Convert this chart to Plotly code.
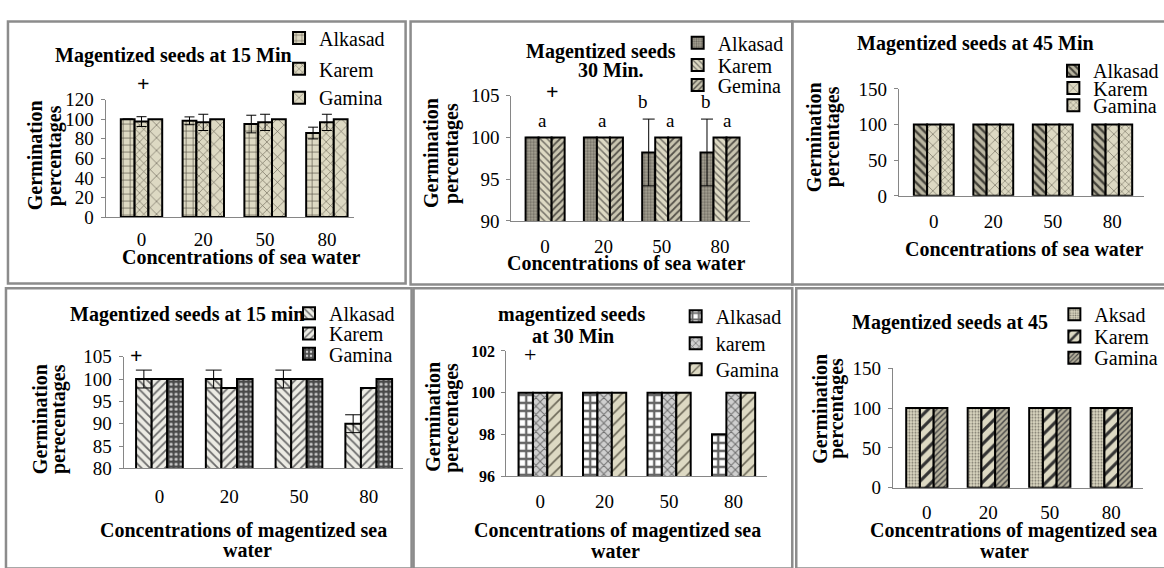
import plotly.graph_objects as go

W, H = 1164, 568
SERIF = "Liberation Serif"
TAN = "#DDD9C3"

categories = ["0", "20", "50", "80"]

# Seeds magnetized 15 min, irrigated with sea water
p1_alkasad = [100, 98.3, 95, 85.8]
p1_alkasad_err = [None, 4, 9, 6]
p1_karem = [97.5, 96.7, 96.7, 96.7]
p1_karem_err = [5, 8.3, 8.3, 8.3]
p1_gamina = [100, 100, 100, 100]

# Seeds magnetized 30 min, sea water
p2_alkasad = [100, 100, 98.2, 98.2]
p2_alkasad_err = [None, None, 4, 4]
p2_karem = [100, 100, 100, 100]
p2_gemina = [100, 100, 100, 100]
p2_letters = ["a", "a", "b", "a", "b", "a"]

# Seeds magnetized 45 min, sea water
p3_alkasad = [100, 100, 100, 100]
p3_karem = [100, 100, 100, 100]
p3_gamina = [100, 100, 100, 100]

# Seeds magnetized 15 min, magnetized sea water
p4_alkasad = [100, 100, 100, 90]
p4_alkasad_err = [2, 2, 2, 2]
p4_karem = [100, 98, 100, 98]
p4_gamina = [100, 100, 100, 100]

# Seeds magnetized 30 min, magnetized sea water
p5_alkasad = [100, 100, 100, 98]
p5_karem = [100, 100, 100, 100]
p5_gamina = [100, 100, 100, 100]

# Seeds magnetized 45 min, magnetized sea water
p6_aksad = [100, 100, 100, 100]
p6_karem = [100, 100, 100, 100]
p6_gamina = [100, 100, 100, 100]

TICK = 19
LEG = 20
BOLD = 20


def fx(px):
    return px / W


def fy(py):
    return 1 - py / H


def pat(shape, fg, bg, size, solidity):
    return dict(color=bg, pattern=dict(shape=shape, fgcolor=fg, bgcolor=bg,
                                       size=size, solidity=solidity, fillmode="replace"))


panels = [
    dict(xdom=(106, 355), ydom=(215, 93), yrange=(0, 120), dtick=20, c0=142, step=62,
         standoff=5, capw=5, ytick=dict(size=TICK),
         legend_left=320, legend_ys=[29, 61, 91],
         series=[("Alkasad", p1_alkasad, p1_alkasad_err, pat("+", "#5a5548", TAN, 7, 0.18)),
                 ("Karem", p1_karem, p1_karem_err, pat("x", "#6a6656", TAN, 6, 0.2)),
                 ("Gamina", p1_gamina, None, pat("x", "#5a5548", TAN, 9, 0.12))]),
    dict(xdom=(513, 753), ydom=(219, 89), yrange=(90, 105), dtick=5, c0=547, step=58.5,
         standoff=8, capw=6, ytick=dict(size=TICK),
         legend_left=720, legend_ys=[34, 57, 78],
         series=[("Alkasad", p2_alkasad, p2_alkasad_err, pat(".", "#6e6a60", "#aaa697", 3, 0.45)),
                 ("Karem", p2_karem, None, pat("\\", "#77746a", TAN, 5, 0.3)),
                 ("Gemina", p2_gemina, None, pat("/", "#55524a", "#c9c5b0", 5, 0.35))]),
    dict(xdom=(902, 1148), ydom=(193, 82), yrange=(0, 150), dtick=50, c0=937, step=59.7,
         standoff=8, capw=5, ytick=dict(size=TICK),
         legend_left=1097, legend_ys=[63, 81, 99],
         series=[("Alkasad", p3_alkasad, None, pat("\\", "#44423a", "#b8b4a0", 6, 0.4)),
                 ("Karem", p3_karem, None, pat("x", "#6a6656", TAN, 8, 0.15)),
                 ("Gamina", p3_gamina, None, pat("x", "#6a6656", TAN, 5, 0.2))]),
    dict(xdom=(124, 404), ydom=(476, 360), yrange=(80, 105), dtick=5, c0=160, step=70,
         standoff=11, capw=8, ytick=dict(size=TICK),
         legend_left=330, legend_ys=[315, 336, 357],
         series=[("Alkasad", p4_alkasad, p4_alkasad_err, pat("\\", "#6a6a6a", "#ecebe4", 6, 0.3)),
                 ("Karem", p4_karem, None, pat("/", "#6a6a6a", "#ecebe4", 6, 0.3)),
                 ("Gamina", p4_gamina, None, pat(".", "#cfcfcf", "#4a4a4a", 5, 0.3))]),
    dict(xdom=(508, 770), ydom=(484, 354), yrange=(96, 102), dtick=2, c0=542, step=64.7,
         standoff=8, capw=5, ytick=dict(size=16, weight="bold"),
         legend_left=718, legend_ys=[318, 346, 373],
         series=[("Alkasad", p5_alkasad, None, pat("+", "#666666", "#ffffff", 8, 0.5)),
                 ("karem", p5_karem, None, pat("x", "#6e6e6e", "#cfcfcf", 6, 0.3)),
                 ("Gamina", p5_gamina, None, pat("/", "#6a6656", TAN, 8, 0.2))]),
    dict(xdom=(896, 1147), ydom=(496, 372), yrange=(0, 150), dtick=50, c0=930, step=61.7,
         standoff=8, capw=5, ytick=dict(size=TICK),
         legend_left=1098, legend_ys=[316, 339, 361],
         series=[("Aksad", p6_aksad, None, pat(".", "#7a766a", TAN, 3, 0.35)),
                 ("Karem", p6_karem, None, pat("/", "#333333", TAN, 9, 0.35)),
                 ("Gamina", p6_gamina, None, pat("/", "#444444", "#b5b09c", 4, 0.35))]),
]

fig = go.Figure()
layout = dict(
    width=W, height=H, margin=dict(l=0, r=0, t=0, b=0),
    paper_bgcolor="white", plot_bgcolor="rgba(0,0,0,0)",
    barmode="group", bargap=0.33, bargroupgap=0,
    font=dict(family=SERIF, size=TICK, color="black"),
    showlegend=True,
)

legend_idx = 0
for k, p in enumerate(panels, start=1):
    xa = "x" if k == 1 else f"x{k}"
    ya = "y" if k == 1 else f"y{k}"
    xkey = "xaxis" if k == 1 else f"xaxis{k}"
    ykey = "yaxis" if k == 1 else f"yaxis{k}"
    L, R = p["xdom"]
    bot, top = p["ydom"]
    r0 = -(p["c0"] - L) / p["step"]
    r1 = r0 + (R - L) / p["step"]
    layout[xkey] = dict(domain=[fx(L), fx(R)], anchor=ya, type="category",
                        range=[r0, r1], showline=True, linecolor="#868686", linewidth=1,
                        ticks="", showgrid=False, zeroline=False,
                        tickfont=dict(family=SERIF, size=TICK),
                        ticklabelstandoff=p["standoff"], fixedrange=True)
    layout[ykey] = dict(domain=[fy(bot), fy(top)], anchor=xa,
                        range=list(p["yrange"]), tick0=p["yrange"][0], dtick=p["dtick"],
                        showline=True, linecolor="#868686", linewidth=1,
                        ticks="outside", ticklen=4, tickcolor="#868686",
                        showgrid=False, zeroline=False,
                        tickfont=dict(family=SERIF, **p["ytick"]),
                        ticklabelstandoff=3, fixedrange=True)
    for (name, vals, err, marker), ly in zip(p["series"], p["legend_ys"]):
        legend_idx += 1
        lkey = "legend" if legend_idx == 1 else f"legend{legend_idx}"
        tr = go.Bar(x=categories, y=vals, name=name, xaxis=xa, yaxis=ya,
                    legend=lkey, hoverinfo="y+name",
                    marker=dict(**marker, line=dict(color="black", width=2)))
        if err is not None:
            tr.error_y = dict(type="data", array=err, visible=True, color="black",
                              thickness=1, width=p["capw"])
        fig.add_trace(tr)
        layout[lkey] = dict(x=fx(p["legend_left"] - 40), y=fy(ly),
                            xanchor="left", yanchor="middle",
                            bgcolor="rgba(0,0,0,0)", borderwidth=0,
                            font=dict(family=SERIF, size=LEG, color="black"),
                            itemwidth=30)

ann = []


def text(x, y, s, size=BOLD, bold=False, angle=0, xanchor="center"):
    ann.append(dict(x=fx(x), y=fy(y), xref="paper", yref="paper", text=s,
                    showarrow=False, textangle=angle, xanchor=xanchor, yanchor="middle",
                    font=dict(family=SERIF, size=size, color="black",
                              weight="bold" if bold else "normal")))


# panel titles
text(174, 47, "Magentized seeds at 15 Min", BOLD, True)
text(603, 43, "Magentized seeds", BOLD, True)
text(613, 62, "30 Min.", BOLD, True)
text(979, 35, "Magentized seeds at 45 Min", BOLD, True)
text(188, 316, "Magentized seeds at 15 min", BOLD, True)
text(573, 316, "magentized seeds", BOLD, True)
text(575, 339, "at 30 Min", BOLD, True)
text(953, 325, "Magentized seeds at 45", BOLD, True)

# y-axis titles, one rotated line each
for (x1, x2, yc, second) in [(36, 55, 151, "percentages"), (433, 453, 149, "percentages"),
                             (817, 835, 132, "percentages"), (40, 58, 425, "perecentages"),
                             (435, 453, 423, "perecentages"), (823, 840, 414, "percentages")]:
    text(x1, yc, "Germination", BOLD, True, -90)
    text(x2, yc, second, BOLD, True, -90)

# x-axis titles
text(242, 257, "Concentrations of sea water", BOLD, True)
text(628, 263, "Concentrations of sea water", BOLD, True)
text(1028, 248, "Concentrations of sea water", BOLD, True)
text(244, 540, "Concentrations of magentized sea", BOLD, True)
text(248, 561, "water", BOLD, True)
text(620, 541, "Concentrations of magentized sea", BOLD, True)
text(618, 562, "water", BOLD, True)
text(1017, 540, "Concentrations of magentized sea", BOLD, True)
text(1008, 562, "water", BOLD, True)

# significance marks
text(144, 76, "+", 22, True)
text(554, 85, "+", 22, True)
text(137, 359, "+", 22, True)
text(532, 358, "+", 22, False)
for s, (x, y) in zip(p2_letters, [(544, 115), (605, 115), (645, 95), (673, 115), (708, 95), (730, 115)]):
    text(x, y, s, TICK)

layout["annotations"] = ann

# panel frames
frames = [(8, 12, 407, 284), (412, 12, 795, 285), (795, 12, 1175, 285),
          (6, 289, 413, 580), (415, 289, 795, 580), (799, 289, 1175, 580)]
layout["shapes"] = [dict(type="rect", xref="paper", yref="paper",
                         x0=fx(a), y0=fy(b), x1=fx(c), y1=fy(d),
                         line=dict(color="#8c8c8c", width=2.5), layer="below")
                    for a, b, c, d in frames]

fig.update_layout(**layout)
fig.write_html("out.html")
